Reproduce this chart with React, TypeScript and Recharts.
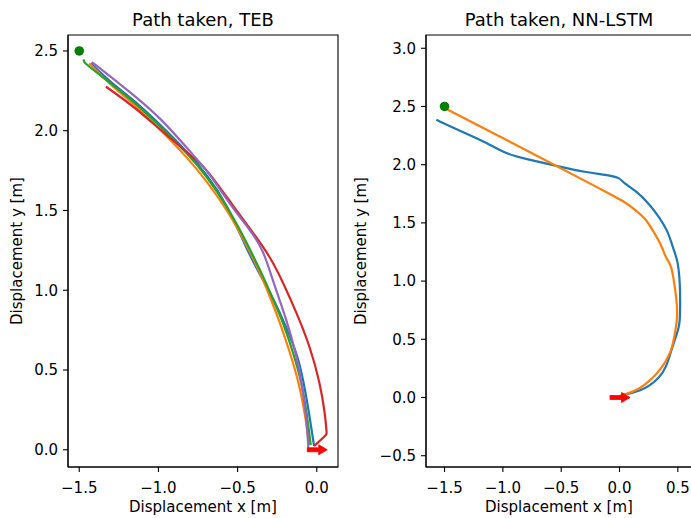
import React from 'react';
import { ComposedChart, Line, Scatter, XAxis, YAxis, ReferenceArea } from 'recharts';

// paths, [x, y] in metres
const tebBlue = [
  [-1.426, 2.422], [-1.301, 2.301], [-1.154, 2.192], [-0.986, 2.036], [-0.818, 1.868],
  [-0.692, 1.722], [-0.566, 1.54], [-0.441, 1.252], [-0.357, 1.095], [-0.252, 0.907],
  [-0.168, 0.708], [-0.115, 0.573], [-0.073, 0.374], [-0.042, 0.186], [-0.017, 0.023],
];
const tebOrange = [
  [-1.437, 2.422], [-1.301, 2.286], [-1.154, 2.167], [-0.986, 2.004], [-0.818, 1.833],
  [-0.692, 1.68], [-0.566, 1.503], [-0.461, 1.319], [-0.357, 1.11], [-0.283, 0.928],
  [-0.227, 0.782], [-0.164, 0.594], [-0.109, 0.405], [-0.073, 0.217], [-0.048, 0.029],
];
const tebGreen = [
  [-1.473, 2.447], [-1.468, 2.43], [-1.464, 2.422], [-1.301, 2.297], [-1.154, 2.182],
  [-0.986, 2.025], [-0.818, 1.858], [-0.692, 1.712], [-0.566, 1.524], [-0.461, 1.335],
  [-0.357, 1.126], [-0.273, 0.938], [-0.21, 0.792], [-0.147, 0.604], [-0.094, 0.416],
  [-0.063, 0.228], [-0.038, 0.029],
];
const tebRed = [
  [-1.332, 2.276], [-1.301, 2.255], [-1.154, 2.15], [-0.986, 2.004], [-0.734, 1.795],
  [-0.692, 1.753], [-0.524, 1.524], [-0.399, 1.356], [-0.294, 1.21], [-0.21, 1.043],
  [-0.126, 0.855], [-0.042, 0.646], [0.021, 0.416], [0.052, 0.228], [0.063, 0.102],
  [0.063, 0.095], [-0.017, 0.023],
];
const tebPurple = [
  [-1.422, 2.428], [-1.41, 2.424], [-1.405, 2.418], [-1.301, 2.339], [-1.196, 2.255],
  [-0.986, 2.084], [-0.755, 1.816], [-0.692, 1.753], [-0.524, 1.503], [-0.42, 1.377],
  [-0.336, 1.252], [-0.273, 1.043], [-0.189, 0.813], [-0.126, 0.583], [-0.094, 0.416],
  [-0.063, 0.186], [-0.052, -0.013],
];

const lstmBlue = [
  [-1.57, 2.385], [-1.368, 2.291], [-1.14, 2.191], [-0.969, 2.09], [-0.798, 2.048],
  [-0.541, 1.99], [-0.284, 1.933], [-0.113, 1.913], [0.001, 1.89], [0.029, 1.847],
  [0.143, 1.775], [0.257, 1.661], [0.343, 1.546], [0.414, 1.432], [0.457, 1.289],
  [0.5, 1.174], [0.514, 1.031], [0.52, 0.916], [0.52, 0.716], [0.514, 0.63],
  [0.5, 0.573], [0.471, 0.487], [0.443, 0.401], [0.4, 0.258], [0.343, 0.172],
  [0.257, 0.1], [0.172, 0.057], [0.086, 0.034], [0.015, 0.023],
];
const lstmOrange = [
  [-1.507, 2.489], [-1.507, 2.489], [-1.02, 2.24], [-0.541, 1.99], [-0.133, 1.775],
  [0.058, 1.675], [0.143, 1.604], [0.229, 1.532], [0.286, 1.432], [0.357, 1.317],
  [0.4, 1.188], [0.443, 1.145], [0.471, 0.974], [0.486, 0.859], [0.5, 0.716],
  [0.48, 0.573], [0.457, 0.458], [0.443, 0.401], [0.386, 0.286], [0.315, 0.2],
  [0.257, 0.143], [0.172, 0.072], [0.058, 0.029], [0.001, 0.014],
];

const startPoint = [[-1.5, 2.5]];
const goalPoint = [[0, 0]];

const tebXTicks = [-1.5, -1.0, -0.5, 0.0];
const tebYTicks = [0.0, 0.5, 1.0, 1.5, 2.0, 2.5];
const lstmXTicks = [-1.5, -1.0, -0.5, 0.0, 0.5];
const lstmYTicks = [-0.5, 0.0, 0.5, 1.0, 1.5, 2.0, 2.5, 3.0];

const C = {
  blue: '#1f77b4',
  orange: '#ff7f0e',
  green: '#2ca02c',
  red: '#d62728',
  purple: '#9467bd',
};

const toXY = (a: number[][]) => a.map(([x, y]) => ({ x, y }));
const fmt = (v: number) => (v < 0 ? '\u2212' : '') + Math.abs(v).toFixed(1);

const StartDot = (p: any) => <circle cx={p.cx} cy={p.cy} r={4.8} fill="#008000" />;
const GoalArrow = (p: any) => {
  const { cx, cy } = p;
  const d = `M${cx - 9.5},${cy - 2} L${cx + 2},${cy - 2} L${cx + 2},${cy - 5} L${cx + 10.5},${cy} L${cx + 2},${cy + 5} L${cx + 2},${cy + 2} L${cx - 9.5},${cy + 2} Z`;
  return <path d={d} fill="#ff0000" stroke="#ff0000" strokeWidth={0.8} strokeLinejoin="round" />;
};

const tick = { fontSize: 15, fill: '#000' };
const axisLine = { stroke: '#000', strokeWidth: 1.1 };

type Panel = {
  series: { data: number[][]; color: string }[];
  xDomain: [number, number];
  yDomain: [number, number];
  xTicks: number[];
  yTicks: number[];
  width: number;
  marginLeft: number;
  marginRight: number;
};

const PathPanel = ({ series, xDomain, yDomain, xTicks, yTicks, width, marginLeft, marginRight }: Panel) => (
  <ComposedChart
    width={width}
    height={518}
    margin={{ top: 35, right: marginRight, bottom: 21, left: marginLeft }}
  >
    <XAxis
      type="number"
      dataKey="x"
      domain={xDomain}
      ticks={xTicks}
      allowDataOverflow
      height={30}
      tickSize={5}
      tickMargin={10}
      tick={tick}
      tickFormatter={fmt}
      axisLine={axisLine}
      tickLine={axisLine}
    />
    <YAxis
      type="number"
      dataKey="y"
      domain={yDomain}
      ticks={yTicks}
      allowDataOverflow
      width={60}
      tickSize={5}
      tickMargin={5}
      tick={tick}
      tickFormatter={fmt}
      axisLine={axisLine}
      tickLine={axisLine}
    />
    {/* axes frame */}
    <ReferenceArea
      x1={xDomain[0]}
      x2={xDomain[1]}
      y1={yDomain[0]}
      y2={yDomain[1]}
      fill="none"
      fillOpacity={0}
      stroke="#000"
      strokeWidth={1.1}
      ifOverflow="visible"
    />
    {series.map((s, i) => (
      <Line
        key={i}
        data={toXY(s.data)}
        dataKey="y"
        type="basis"
        stroke={s.color}
        strokeWidth={2.2}
        dot={false}
        activeDot={false}
        isAnimationActive={false}
      />
    ))}
    <Scatter data={toXY(startPoint)} dataKey="y" shape={StartDot} isAnimationActive={false} />
    <Scatter data={toXY(goalPoint)} dataKey="y" shape={GoalArrow} isAnimationActive={false} />
  </ComposedChart>
);

const textStyle: React.CSSProperties = { position: 'absolute', whiteSpace: 'nowrap', color: '#000' };

export default function App() {
  return (
    <div
      style={{
        position: 'fixed', left: 0, top: 0, width: 691, height: 518, overflow: 'hidden',
        background: '#fff', fontFamily: '"DejaVu Sans", sans-serif',
      }}
    >
      <div style={{ position: 'absolute', left: 0, top: 0 }}>
        <PathPanel
          series={[
            { data: tebBlue, color: C.blue },
            { data: tebOrange, color: C.orange },
            { data: tebGreen, color: C.green },
            { data: tebRed, color: C.red },
            { data: tebPurple, color: C.purple },
          ]}
          xDomain={[-1.571, 0.134]}
          yDomain={[-0.108, 2.6]}
          xTicks={tebXTicks}
          yTicks={tebYTicks}
          width={345}
          marginLeft={8}
          marginRight={7}
        />
      </div>
      <div style={{ position: 'absolute', left: 360, top: 0 }}>
        <PathPanel
          series={[
            { data: lstmBlue, color: C.blue },
            { data: lstmOrange, color: C.orange },
          ]}
          xDomain={[-1.659, 0.63]}
          yDomain={[-0.597, 3.114]}
          xTicks={lstmXTicks}
          yTicks={lstmYTicks}
          width={343}
          marginLeft={6}
          marginRight={10}
        />
      </div>

      <div style={{ ...textStyle, left: 203, top: 11, fontSize: 18, lineHeight: '18px', transform: 'translateX(-50%)' }}>
        Path taken, TEB
      </div>
      <div style={{ ...textStyle, left: 559, top: 11, fontSize: 18, lineHeight: '18px', transform: 'translateX(-50%)' }}>
        Path taken, NN-LSTM
      </div>
      <div style={{ ...textStyle, left: 203, top: 500, fontSize: 15, lineHeight: '15px', transform: 'translateX(-50%)' }}>
        Displacement x [m]
      </div>
      <div style={{ ...textStyle, left: 559, top: 500, fontSize: 15, lineHeight: '15px', transform: 'translateX(-50%)' }}>
        Displacement x [m]
      </div>
      <div style={{ ...textStyle, left: 17, top: 251, fontSize: 15, lineHeight: '15px', transform: 'translate(-50%, -50%) rotate(-90deg)' }}>
        Displacement y [m]
      </div>
      <div style={{ ...textStyle, left: 361, top: 251, fontSize: 15, lineHeight: '15px', transform: 'translate(-50%, -50%) rotate(-90deg)' }}>
        Displacement y [m]
      </div>
    </div>
  );
}
